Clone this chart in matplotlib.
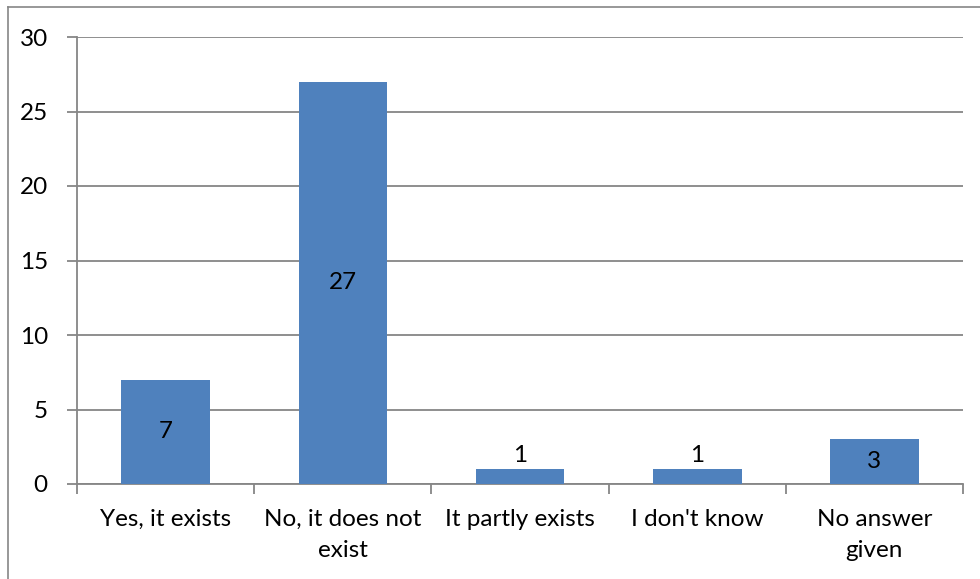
import matplotlib
matplotlib.use("Agg")
import matplotlib.pyplot as plt
from matplotlib.lines import Line2D

categories = ["Yes, it exists", "No, it does not\nexist", "It partly exists", "I don't know", "No answer\ngiven"]
values = [7, 27, 1, 1, 3]
yticks = [0, 5, 10, 15, 20, 25, 30]

plt.rcParams['font.family'] = ['Lato', 'DejaVu Sans']

W, H = 980, 579
fig = plt.figure(figsize=(W / 100, H / 100), dpi=100)
ax = fig.add_axes([77 / W, 1 - 484 / H, (963 - 77) / W, (484 - 37) / H])

grid_c = "#868686"
fs = 17.5
x = list(range(len(categories)))
bars = ax.bar(x, values, width=0.5, color="#4F81BD", zorder=3)
for b, v in zip(bars, values):
    cx = b.get_x() + b.get_width() / 2
    if v >= 2:
        ax.text(cx, v / 2, str(v), ha="center", va="center", fontsize=fs, color="black", zorder=4)
    else:
        ax.annotate(str(v), (cx, v), xytext=(0, 2), textcoords="offset points",
                    ha="center", va="bottom", fontsize=fs, color="black", zorder=4)

ax.set_xlim(-0.5, len(categories) - 0.5)
ax.set_ylim(0, 30)
ax.set_yticks(yticks)
ax.set_yticklabels([str(t) for t in yticks], fontsize=fs)
ax.yaxis.grid(True, color=grid_c, linewidth=1.3, zorder=0)
ax.set_axisbelow(True)

ax.set_xticks([i - 0.5 for i in range(len(categories) + 1)])
ax.set_xticklabels([])
ax.set_xticks(x, minor=True)
ax.set_xticklabels(categories, minor=True, fontsize=fs, linespacing=1.6)
ax.tick_params(axis="x", which="minor", length=0, pad=18)
ax.tick_params(axis="x", which="major", length=7, color=grid_c, width=1.3)
ax.tick_params(axis="y", length=7, color=grid_c, width=1.3, pad=14)

for s in ["top", "right"]:
    ax.spines[s].set_visible(False)
for s in ["left", "bottom"]:
    ax.spines[s].set_color(grid_c)
    ax.spines[s].set_linewidth(1.3)

# outer chart frame
fig.add_artist(Line2D([8 / W, 8 / W], [0, 1 - 7 / H], transform=fig.transFigure, color=grid_c, linewidth=1.2))
fig.add_artist(Line2D([8 / W, 1], [1 - 7 / H, 1 - 7 / H], transform=fig.transFigure, color=grid_c, linewidth=1.2))

fig.savefig("out.png", dpi=100)
